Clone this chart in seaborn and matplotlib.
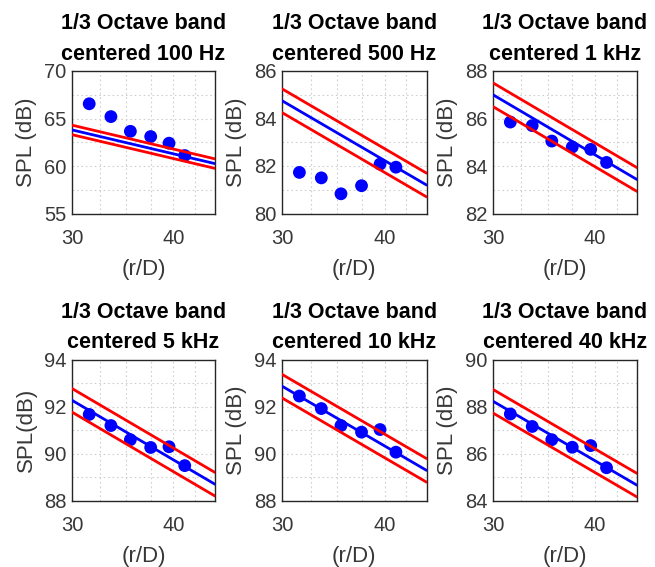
import numpy as np
import pandas as pd
import matplotlib
matplotlib.use("Agg")
import matplotlib.pyplot as plt
from matplotlib.ticker import NullLocator, FixedLocator, FixedFormatter
import seaborn as sns

# ---- data ----
bands = ["100 Hz", "500 Hz", "1 kHz", "5 kHz", "10 kHz", "40 kHz"]
r_over_D = [31.5, 33.5, 35.4, 37.5, 39.5, 41.3]
spl_100 = [66.55, 65.2, 63.65, 63.1, 62.4, 61.1]
spl_500 = [81.73, 81.5, 80.83, 81.17, 82.08, 81.95]
spl_1k = [85.85, 85.7, 85.05, 84.8, 84.7, 84.15]
spl_5k = [91.67, 91.2, 90.6, 90.27, 90.3, 89.5]
spl_10k = [92.45, 91.92, 91.2, 90.92, 91.03, 90.07]
spl_40k = [87.69, 87.16, 86.6, 86.28, 86.35, 85.41]
fit_rD = [30, 45]
fit_start = [63.8, 84.75, 87.0, 92.27, 92.87, 88.23]
fit_end = [60.25, 81.2, 83.43, 88.71, 89.3, 84.67]
band_half = 0.5
ylims = [(55, 70), (80, 86), (82, 88), (88, 94), (88, 94), (84, 90)]
ylabel_step = [5, 2, 2, 2, 2, 2]
ygrid_step = [2.5, 1, 1, 1, 1, 1]
ylabels = ["SPL (dB)", "SPL (dB)", "SPL (dB)", "SPL(dB)", "SPL (dB)", "SPL (dB)"]
x_grid = [30, 32.5, 35, 37.5, 40, 42.5, 45]
x_labels = ["30", "", "", "", "40", "", ""]

spl_all = [spl_100, spl_500, spl_1k, spl_5k, spl_10k, spl_40k]

sns.set_theme(style="white")
plt.rcParams["font.family"] = ["Liberation Sans", "DejaVu Sans"]

W, H = 655, 567
fig = plt.figure(figsize=(W / 100, H / 100), dpi=100)

cols = [(72, 215), (282, 426.5), (493, 637)]
rows = [(71, 213.5), (359.5, 501)]

txt = "#383838"
for i in range(6):
    r, c = divmod(i, 3)
    x0, x1 = cols[c]
    y0, y1 = rows[r]
    ax = fig.add_axes([x0 / W, 1 - y1 / H, (x1 - x0) / W, (y1 - y0) / H])

    pts = pd.DataFrame({"rD": r_over_D, "spl": spl_all[i]})
    sns.scatterplot(data=pts, x="rD", y="spl", ax=ax, color="#0000ff",
                    s=85, edgecolor="none", linewidth=0, zorder=3)
    fit = pd.DataFrame({"rD": fit_rD, "spl": [fit_start[i], fit_end[i]]})
    up = fit.assign(spl=fit["spl"] + band_half)
    lo = fit.assign(spl=fit["spl"] - band_half)
    for df, colr in [(up, "#ff0000"), (fit, "#0000ff"), (lo, "#ff0000")]:
        sns.lineplot(data=df, x="rD", y="spl", ax=ax, color=colr,
                     linewidth=2.0, zorder=4)

    ax.set_xscale("log")
    ax.set_xlim(30, 45)
    ax.xaxis.set_minor_locator(NullLocator())
    ax.xaxis.set_major_locator(FixedLocator(x_grid))
    ax.xaxis.set_major_formatter(FixedFormatter(x_labels))

    lo_y, hi_y = ylims[i]
    ax.set_ylim(lo_y, hi_y)
    yt = np.arange(lo_y, hi_y + 1e-9, ygrid_step[i])
    ax.set_yticks(yt)
    ax.set_yticklabels([("%g" % v) if abs((v - lo_y) % ylabel_step[i]) < 1e-9 else "" for v in yt])

    ax.grid(True, linestyle=(0, (1.5, 2.5)), color="#cfcfcf", linewidth=0.8)
    ax.set_axisbelow(True)
    for s in ax.spines.values():
        s.set_color("#262626")
        s.set_linewidth(1.0)
        s.set_visible(True)
    ax.tick_params(axis="both", direction="in", length=3, width=0.8,
                   color="#262626", labelsize=14.5, labelcolor=txt)
    ax.tick_params(axis="x", pad=11)
    ax.tick_params(axis="y", pad=4)

    ax.set_xlabel("(r/D)", fontsize=16, color=txt, labelpad=8)
    ax.set_ylabel(ylabels[i], fontsize=16, color=txt, labelpad=5)
    ax.set_title("1/3 Octave band\ncentered " + bands[i], fontsize=15.5,
                 fontweight="bold", color="black", pad=8, linespacing=1.6)

fig.savefig("out.png", dpi=100, facecolor="white")
